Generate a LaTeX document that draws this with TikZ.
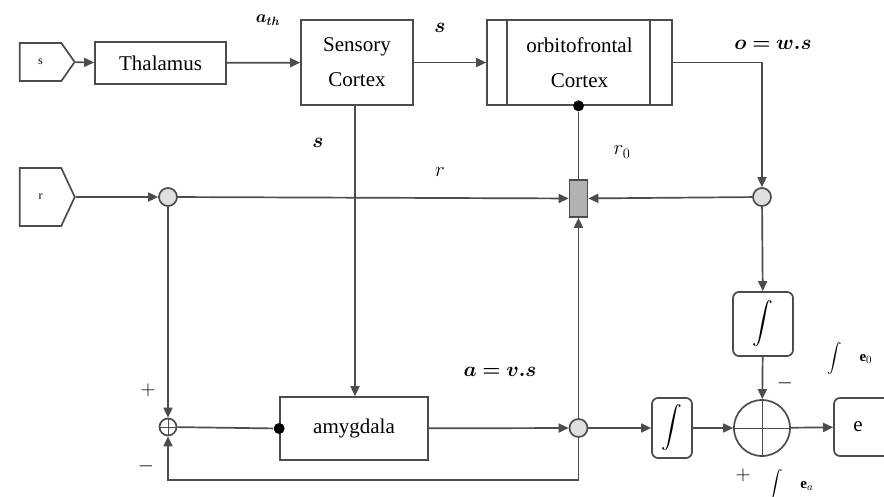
\documentclass[tikz,border=0pt]{standalone}
\usepackage{amsmath,bm}
\usepackage{fontspec}
\setmainfont{Liberation Serif}
\usetikzlibrary{arrows.meta,shapes.symbols}

\begin{document}
\begin{tikzpicture}[x=1pt,y=-1pt,line width=1.7pt,draw=black!70,
		>={Triangle[length=10pt,width=9pt]},
		font=\fontsize{21}{25}\selectfont,
		blk/.style={draw,inner sep=0pt,align=center},
		src/.style={draw,signal,signal to=east,signal pointer angle=110,minimum width=55pt,inner sep=0pt,font=\fontsize{12}{14}\selectfont},
		sum/.style={draw,circle,fill=gray!25,minimum size=18pt,inner sep=0pt},
		plus/.style={draw,circle,minimum size=#1,inner sep=0pt,path picture={
				\draw[line width=1pt] (path picture bounding box.north) -- (path picture bounding box.south)
				(path picture bounding box.west) -- (path picture bounding box.east);}},
		dot/.style={circle,fill=black,minimum size=11pt,inner sep=0pt},
		intbox/.style={draw,rounded corners=6pt,inner sep=0pt},
		lbl/.style={font=\fontsize{20}{22}\selectfont}]
	\useasboundingbox (0,0) rectangle (884,497);
	
	\node[src,minimum height=38pt] (sIn) at (40.5,62) {s};
	\node[src,signal pointer angle=130,minimum height=58pt] (rIn) at (40.5,197) {r};
	\node[blk,minimum width=131pt,minimum height=42pt] (thal) at (160.5,63) {Thalamus};
	\node[blk,minimum width=112pt,minimum height=85pt] (sens) at (357,62.5) {Sensory\\[10pt]Cortex};
	\node[blk,minimum width=185pt,minimum height=85pt] (orb) at (579.5,62.5) {orbitofrontal\\[10pt]Cortex};
	\foreach \sh in {21,164}
	\draw ([xshift=\sh pt]orb.north west) -- ([xshift=\sh pt]orb.south west);
	\node[blk,minimum width=148pt,minimum height=63pt] (amyg) at (354,428.5) {amygdala};
	
	\node[sum] (sumR) at (168,197) {};
	\node[sum] (sumO) at (762,197) {};
	\node[sum] (sumA) at (578.5,428) {};
	\node[blk,fill=gray!60,minimum width=18pt,minimum height=37pt] (learn) at (578.5,198.5) {};
	\node[plus=17pt] (cross) at (168,427) {};
	\node[plus=56pt] (big) at (762,428) {};
	\node[dot] (dotO) at (orb.south -| learn) {};
	\node[dot] (dotA) at (amyg.west) {};
	\node[intbox,minimum width=40pt,minimum height=60pt] (int1) at (672,428) {$\displaystyle\int$};
	\node[intbox,minimum width=60pt,minimum height=64pt] (int2) at (763,324) {$\displaystyle\int$};
	\node[intbox,minimum width=66pt,minimum height=58pt] (ebox) at (867,427) {\hspace*{-18pt}e};
	\coordinate (fb) at (578.5,480);
	
	\draw[->] (sIn) -- (thal);
	\draw[->] (thal) -- (sens);
	\draw[->] (sens) -- (orb);
	\draw[->] (orb.east |- sens.east) -| (sumO);
	\draw[->] (sumO) -- (learn);
	\draw (dotO) -- (learn);
	\draw[->] (rIn) -- (sumR);
	\draw[->] (sumR) -- (learn);
	\draw[->] (sumR) -- (cross);
	\draw (cross) -- (dotA);
	\draw[->] (sens.south -| 355,0) -- (amyg.north -| 355,0);
	\draw[->] (amyg) -- (sumA);
	\draw[->] (sumA) -- (learn);
	\draw[->] (sumA) -- (fb) -| (cross);
	\draw[->] (sumA) -- (int1);
	\draw[->] (int1) -- (big);
	\draw[->] (sumO) -- (int2);
	\draw[->] (int2) -- (big);
	\draw[->] (big) -- (ebox);
	
	\node[lbl,font=\fontsize{17}{20}\selectfont] (lAth) at (268,20) {$\boldsymbol{a_{th}}$};
	\node[lbl] (lS1) at (440,28) {$\boldsymbol{s}$};
	\node[lbl] (lOut) at (773,45) {$\boldsymbol{o=w.s}$};
	\node[lbl] (lS2) at (318,143) {$\boldsymbol{s}$};
	\node[lbl] (lR) at (440,172) {$r$};
	\node[lbl] (lR0) at (622,152) {$r_0$};
	\node[lbl] (lA) at (500,372) {$\boldsymbol{a=v.s}$};
	\node[lbl] (pTop) at (148,390) {$+$};
	\node[lbl] (mBot) at (146,466) {$-$};
	\node[lbl] (mInt) at (785,383) {$-$};
	\node[lbl] (pInt) at (743,475) {$+$};
	\node[lbl,font=\fontsize{15}{18}\selectfont] (lEo) at (850,358) {$\displaystyle\int\quad\mathbf{e}_0$};
	\node[lbl,font=\fontsize{15}{18}\selectfont] (lEa) at (791,485) {$\displaystyle\int\quad\mathbf{e}_a$};
\end{tikzpicture}
\end{document}
